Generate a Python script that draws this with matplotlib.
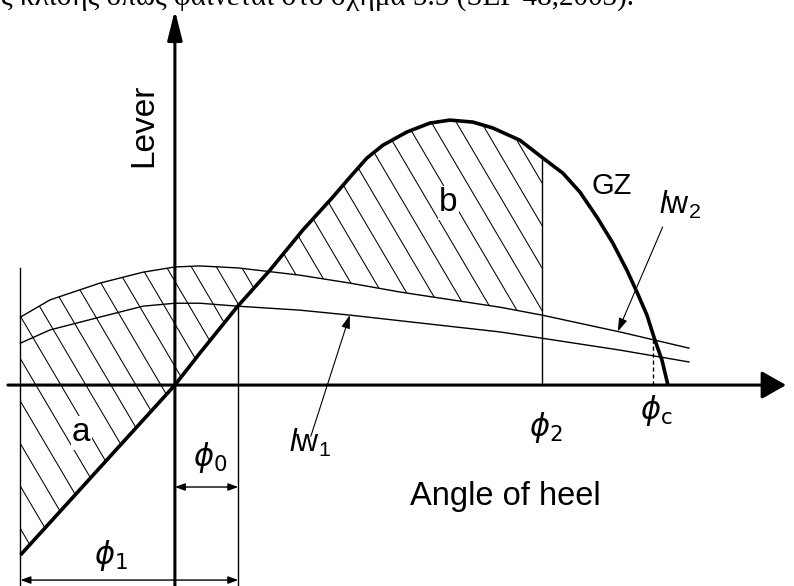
import numpy as np
import matplotlib
matplotlib.use('Agg')
import matplotlib.pyplot as plt
from matplotlib.patches import Polygon
from matplotlib.collections import LineCollection

plt.rcParams['font.family'] = ['Liberation Sans', 'DejaVu Sans']
plt.rcParams['mathtext.fontset'] = 'custom'
plt.rcParams['mathtext.rm'] = 'Liberation Sans'
plt.rcParams['mathtext.it'] = 'Liberation Sans:italic'

# righting lever GZ (heel in deg, lever in m)
gz_angle = np.array([-23.4, -14.85, 0, 3.79, 9.39, 14.39, 19.39, 23.94, 26.52, 29.09,
                     31.52, 35.15, 38.64, 41.67, 45.15, 48.18, 52.27, 55.76, 58.79,
                     61.36, 63.94, 66.36, 68.48, 70.0, 71.52, 72.73, 73.79, 74.7])
gz_lever = np.array([-0.515, -0.327, 0, 0.097, 0.236, 0.348, 0.470, 0.570, 0.630, 0.688,
                     0.727, 0.767, 0.794, 0.803, 0.797, 0.779, 0.742, 0.688, 0.642,
                     0.585, 0.509, 0.430, 0.348, 0.282, 0.212, 0.136, 0.076, 0.0])

# wind heeling levers: steady wind lw1 and gust lw2
lw_angle = np.array([-23.4, -18.94, -11.36, -4.85, 0, 3.79, 9.55, 18.94, 26.52,
                     34.09, 49.24, 55.61, 67.42, 77.88])
lw1_lever = np.array([0.127, 0.167, 0.206, 0.239, 0.248, 0.248, 0.239, 0.227, 0.212,
                      0.195, 0.161, 0.142, 0.106, 0.070])
lw2_lever = np.array([0.206, 0.258, 0.309, 0.342, 0.358, 0.361, 0.355, 0.333, 0.309,
                      0.282, 0.236, 0.212, 0.161, 0.112])

phi1 = -23.4
phi0 = 9.6
phi2 = 55.6
phic = 72.4

W, H = 794, 586
xlim = (-26.5, 93.8)
ylim = (-0.609, 1.167)
sx = W / (xlim[1] - xlim[0])
sy = H / (ylim[1] - ylim[0])

fig = plt.figure(figsize=(W / 100, H / 100), dpi=100)
ax = fig.add_axes([0, 0, 1, 1])
ax.set_xlim(xlim)
ax.set_ylim(ylim)
ax.axis('off')

# hatched areas a and b between gust lever and GZ, from phi1 to phi2
mw = lw_angle < phi2
mg = gz_angle < phi2
px = list(lw_angle[mw]) + [phi2, phi2] + list(gz_angle[mg][::-1])
py = (list(lw2_lever[mw]) + [np.interp(phi2, lw_angle, lw2_lever),
      np.interp(phi2, gz_angle, gz_lever)] + list(gz_lever[mg][::-1]))
area = Polygon(np.column_stack([px, py]), closed=True, fill=False, lw=0)
ax.add_patch(area)

slope = -1.7 * sx / sy
step = 25 / sx
segs = []
for c in np.arange(-40, 100, step):
    segs.append([(c + 1.3 / slope, 1.3), (c - 0.8 / slope, -0.8)])
hatch = LineCollection(segs, colors='k', linewidths=0.75)
hatch.set_clip_path(area)
ax.add_collection(hatch)

# lever curves
ax.plot(lw_angle, lw1_lever, color='k', lw=1.0)
ax.plot(lw_angle, lw2_lever, color='k', lw=1.0)
ax.plot(gz_angle, gz_lever, color='k', lw=2.6, solid_capstyle='butt')

# vertical guide lines
ax.plot([phi1, phi1], [ylim[0], 0.355], color='k', lw=1.0)
ax.plot([phi0, phi0], [ylim[0], np.interp(phi0, lw_angle, lw1_lever)], color='k', lw=1.0)
ax.plot([phi2, phi2], [0, np.interp(phi2, gz_angle, gz_lever)], color='k', lw=1.0)
ax.plot([phic, phic], [0, np.interp(phic, lw_angle, lw2_lever)], color='k', lw=1.0,
        ls=(0, (3, 2)))

# axes with arrow heads
ax.annotate('', xy=(92.6, 0), xytext=(-25.3, 0),
            arrowprops=dict(arrowstyle='-|>,head_length=15,head_width=8.5',
                            mutation_scale=1, lw=2.2, color='k',
                            shrinkA=0, shrinkB=0))
ax.annotate('', xy=(0, 1.136), xytext=(0, ylim[0]),
            arrowprops=dict(arrowstyle='-|>,head_length=18,head_width=4.5',
                            mutation_scale=1, lw=2.2, color='k',
                            shrinkA=0, shrinkB=0))

# dimension arrows for phi0 and phi1
dim = dict(arrowstyle='<|-|>,head_length=6,head_width=2.2', mutation_scale=1,
           lw=1.0, color='k', shrinkA=0, shrinkB=0)
ax.annotate('', xy=(phi0, -0.309), xytext=(0, -0.309), arrowprops=dim)
ax.annotate('', xy=(phi0, -0.591), xytext=(phi1, -0.591), arrowprops=dim)

# pointers to the wind levers
ptr = dict(arrowstyle='-|>,head_length=8,head_width=2.6', mutation_scale=1,
           lw=0.8, color='k', shrinkA=0, shrinkB=0)
ax.annotate('', xy=(26.5, np.interp(26.5, lw_angle, lw1_lever)), xytext=(20.6, -0.155),
            arrowprops=ptr)
ax.annotate('', xy=(67.1, np.interp(67.1, lw_angle, lw2_lever)), xytext=(73.9, 0.479),
            arrowprops=ptr)

# labels
ax.text(-4.7, 0.788, 'Lever', rotation=90, ha='center', va='center', fontsize=24)
ax.text(50.0, -0.339, 'Angle of heel', ha='center', va='center', fontsize=23.5)
ax.text(-14.2, -0.145, 'a', ha='center', va='center', fontsize=24,
        bbox=dict(facecolor='white', edgecolor='none', pad=1))
ax.text(41.4, 0.552, 'b', ha='center', va='center', fontsize=24,
        bbox=dict(facecolor='white', edgecolor='none', pad=1))
ax.text(66.2, 0.603, 'GZ', ha='center', va='center', fontsize=21)
ax.text(20.5, -0.175, r'$\mathit{l}\mathrm{w}_{1}$', ha='center', va='center', fontsize=22)
ax.text(76.5, 0.545, r'$\mathit{l}\mathrm{w}_{2}$', ha='center', va='center', fontsize=22)

phi_kw = dict(ha='center', va='center', fontsize=22, math_fontfamily='dejavusans')
ax.text(5.3, -0.221, r'$\phi_0$', **phi_kw)
ax.text(-9.7, -0.518, r'$\phi_1$', **phi_kw)
ax.text(56.2, -0.130, r'$\phi_2$', **phi_kw)
ax.text(73.0, -0.076, r'$\phi_\mathrm{c}$', **phi_kw)

# tail of the paragraph above the figure
ax.text(69.6, 1.153, 'της κλίσης όπως φαίνεται στο σχήμα 5.5 (SEP 48,2003).',
        ha='right', va='baseline', family='Liberation Serif', fontsize=21)

fig.savefig('out.png', dpi=100)
